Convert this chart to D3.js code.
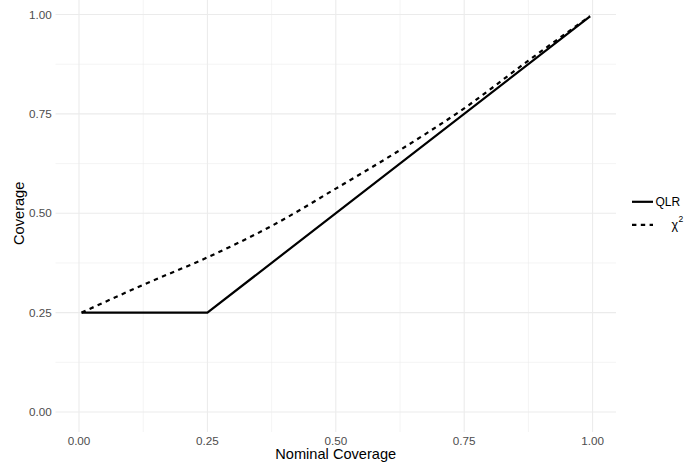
<!DOCTYPE html>
<html>
<head>
<meta charset="utf-8">
<script src="https://cdn.jsdelivr.net/npm/d3@7"></script>
<style>
  body { margin: 0; background: #fff; }
  text { font-family: "Liberation Sans", Arial, Helvetica, sans-serif; }
</style>
</head>
<body>
<script>
// data
var qlrX = [0.005, 0.25, 0.995];
var qlrY = [0.25, 0.25, 0.995];

var chiX = [0.005, 0.125, 0.25, 0.375, 0.5, 0.625, 0.75, 0.875, 0.995];
var chiY = [0.25, 0.320, 0.389, 0.468, 0.562, 0.659, 0.764, 0.884, 0.996];

var majorTicks = [0, 0.25, 0.5, 0.75, 1];
var minorTicks = [0.125, 0.375, 0.625, 0.875];
var tickLabels = ["0.00", "0.25", "0.50", "0.75", "1.00"];

var svgWidth = 688, svgHeight = 465;
var panel = {left: 55.5, right: 616, top: -5.4, bottom: 432};

var svg = d3.select("body").append("svg")
    .attr("width", svgWidth).attr("height", svgHeight);

var xScale = d3.scaleLinear().domain([0, 1]).range([79, 592.6]);
var yScale = d3.scaleLinear().domain([0, 1]).range([412, 14.5]);

var grid = svg.append("g");

// minor grid
grid.selectAll(".vminor").data(minorTicks).enter().append("line")
    .attr("x1", xScale).attr("x2", xScale)
    .attr("y1", panel.top).attr("y2", panel.bottom)
    .attr("stroke", "#ebebeb").attr("stroke-width", 0.55);
grid.selectAll(".hminor").data(minorTicks).enter().append("line")
    .attr("y1", yScale).attr("y2", yScale)
    .attr("x1", panel.left).attr("x2", panel.right)
    .attr("stroke", "#ebebeb").attr("stroke-width", 0.55);

// major grid
grid.selectAll(".vmajor").data(majorTicks).enter().append("line")
    .attr("x1", xScale).attr("x2", xScale)
    .attr("y1", panel.top).attr("y2", panel.bottom)
    .attr("stroke", "#ebebeb").attr("stroke-width", 1.07);
grid.selectAll(".hmajor").data(majorTicks).enter().append("line")
    .attr("y1", yScale).attr("y2", yScale)
    .attr("x1", panel.left).attr("x2", panel.right)
    .attr("stroke", "#ebebeb").attr("stroke-width", 1.07);

// tick labels
svg.selectAll(".xlab").data(majorTicks).enter().append("text")
    .attr("x", xScale).attr("y", 441)
    .attr("dy", "0.35em")
    .attr("text-anchor", "middle")
    .attr("font-size", "11.7px").attr("fill", "#4d4d4d")
    .text(function(d, i) { return tickLabels[i]; });

svg.selectAll(".ylab").data(majorTicks).enter().append("text")
    .attr("x", 51.7).attr("y", yScale)
    .attr("dy", "0.35em")
    .attr("text-anchor", "end")
    .attr("font-size", "11.7px").attr("fill", "#4d4d4d")
    .text(function(d, i) { return tickLabels[i]; });

// axis titles
svg.append("text")
    .attr("x", (panel.left + panel.right) / 2).attr("y", 454)
    .attr("dy", "0.35em")
    .attr("text-anchor", "middle")
    .attr("font-size", "14.6px")
    .text("Nominal Coverage");

svg.append("text")
    .attr("text-anchor", "middle")
    .attr("font-size", "14.6px")
    .attr("transform", "translate(18.5," + ((panel.top + panel.bottom) / 2) + ")rotate(-90)")
    .attr("dy", "0.35em")
    .text("Coverage");

// lines
var line = d3.line()
    .x(function(d) { return xScale(d[0]); })
    .y(function(d) { return yScale(d[1]); });

var qlr = d3.zip(qlrX, qlrY);
var chi = d3.zip(chiX, chiY);

svg.append("path")
    .attr("d", line.curve(d3.curveMonotoneX)(chi))
    .attr("fill", "none").attr("stroke", "#000")
    .attr("stroke-width", 2.2)
    .attr("stroke-dasharray", "4.4,4.4");

svg.append("path")
    .attr("d", line.curve(d3.curveLinear)(qlr))
    .attr("fill", "none").attr("stroke", "#000")
    .attr("stroke-width", 2.2);

// legend
var legend = svg.append("g");
legend.append("line")
    .attr("x1", 632).attr("x2", 653).attr("y1", 201.8).attr("y2", 201.8)
    .attr("stroke", "#000").attr("stroke-width", 2.2);
legend.append("text")
    .attr("x", 655.5).attr("y", 201.8).attr("dy", "0.35em")
    .attr("font-size", "12px")
    .text("QLR");
legend.append("line")
    .attr("x1", 632).attr("x2", 653).attr("y1", 224.8).attr("y2", 224.8)
    .attr("stroke", "#000").attr("stroke-width", 2.2)
    .attr("stroke-dasharray", "4.4,4.4");
var chiLab = legend.append("text")
    .attr("x", 671.5).attr("y", 228.5)
    .attr("font-size", "12.5px");
chiLab.append("tspan").text("χ");
chiLab.append("tspan").attr("dy", -7).attr("dx", 0.5)
    .attr("font-size", "8.5px").text("2");
</script>
</body>
</html>
